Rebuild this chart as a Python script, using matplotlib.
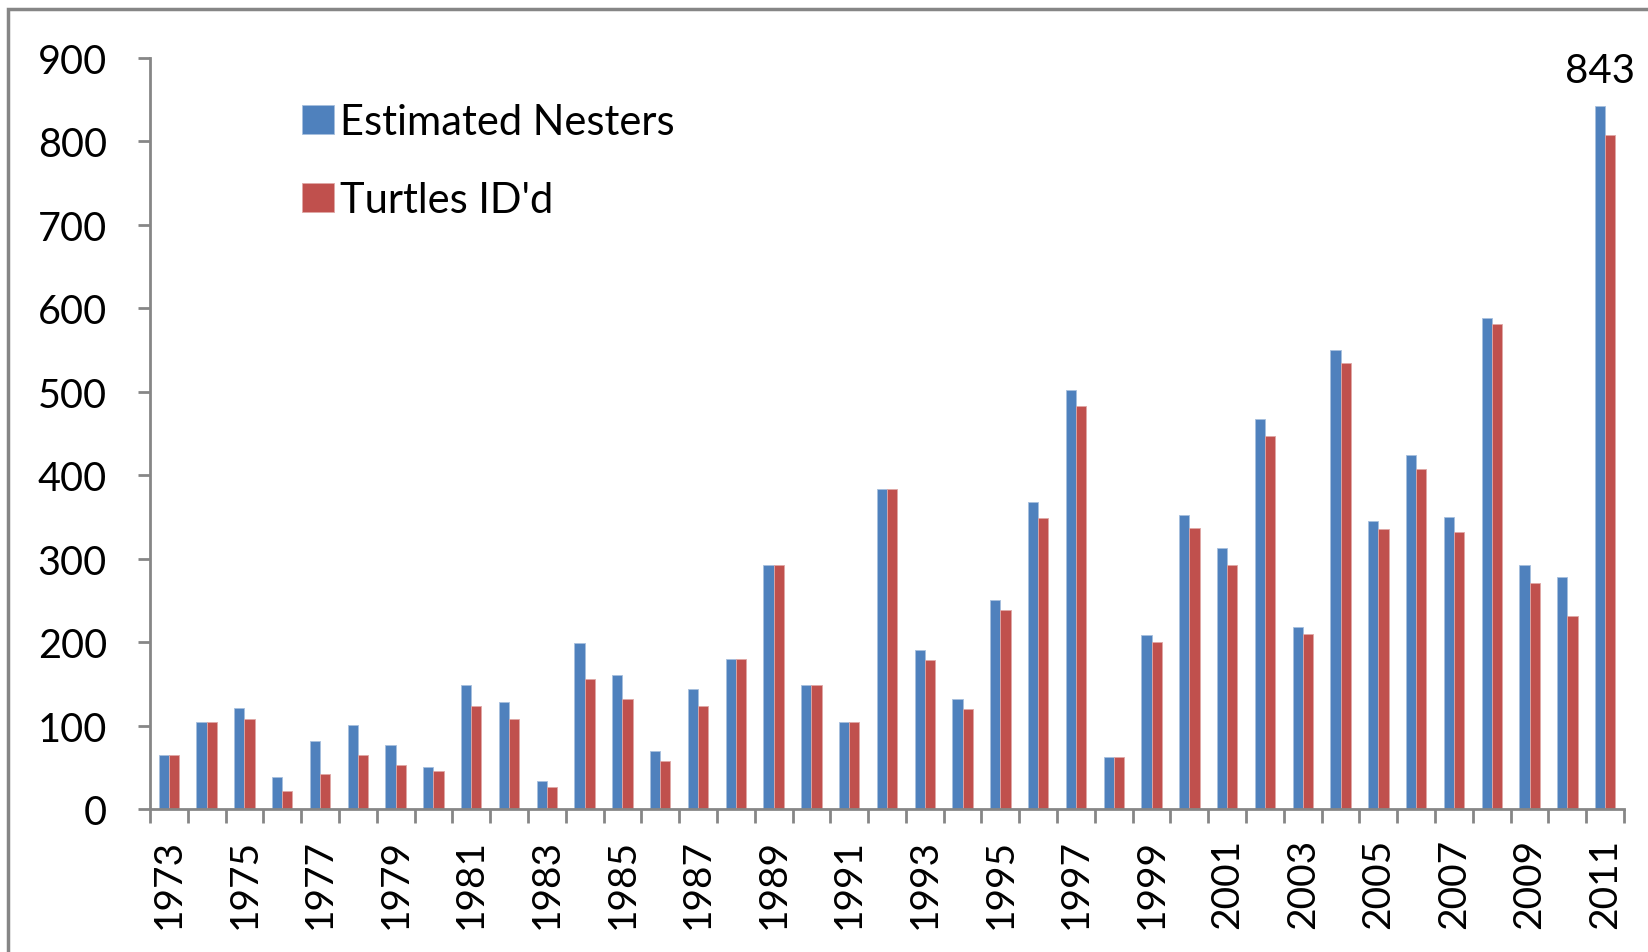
import matplotlib
matplotlib.use("Agg")
import matplotlib.pyplot as plt
import matplotlib.patches as patches
import numpy as np

# DATA
years = list(range(1973, 2012))
nesters = [65, 104, 121, 38, 82, 101, 77, 50, 149, 128, 34, 199, 160, 69, 144, 180,
           293, 149, 104, 384, 191, 132, 250, 368, 502, 62, 208, 352, 313, 467, 218,
           550, 345, 424, 350, 589, 293, 278, 843]
ided = [65, 104, 108, 22, 42, 65, 53, 45, 123, 108, 26, 156, 132, 57, 123, 180,
        293, 149, 104, 384, 179, 120, 238, 349, 483, 62, 200, 337, 293, 447, 210,
        534, 336, 408, 332, 581, 271, 231, 808]
label_years = [str(y) for y in years[::2]]

blue = "#4F81BD"
red = "#C0504D"
gray = "#868686"
plt.rcParams['font.family'] = ['Lato', 'DejaVu Sans']

fig = plt.figure(figsize=(16.48, 9.53), dpi=100)
ax = fig.add_axes([150/1648, 1-810/953, 1474/1648, 751/953])

x = np.arange(len(years))
w = 0.27
ax.bar(x - w/2, nesters, w, color=blue, edgecolor="#A7BFDE", linewidth=0.6, label="Estimated Nesters")
ax.bar(x + w/2, ided, w, color=red, edgecolor="#DFA7A6", linewidth=0.6, label="Turtles ID'd")

ax.set_xlim(-0.5, len(years) - 0.5)
ax.set_ylim(0, 900)
ax.set_yticks(range(0, 901, 100))

ax.set_xticks(x[::2])
ax.set_xticklabels(label_years, rotation=90)
ax.set_xticks(np.arange(len(years) + 1) - 0.5, minor=True)
ax.tick_params(axis='x', which='major', length=0, pad=21, labelsize=28)
ax.tick_params(axis='x', which='minor', length=10, width=2, color=gray)
ax.tick_params(axis='y', length=9, width=2, color=gray, pad=22, labelsize=28.5)

for s in ['top', 'right']:
    ax.spines[s].set_visible(False)
for s in ['left', 'bottom']:
    ax.spines[s].set_color(gray)
    ax.spines[s].set_linewidth(2)

ax.annotate(str(nesters[-1]), (x[-1] - w/2, nesters[-1]), xytext=(0, 12),
            textcoords='offset points', ha='center', va='bottom', fontsize=29)

ax.legend(loc='upper left', bbox_to_anchor=(0.092, 0.962), frameon=False, fontsize=30,
          handlelength=0.75, handleheight=0.7, handletextpad=0.15, labelspacing=0.95,
          borderaxespad=0)

# outer frame
fig.patches.append(patches.Rectangle((8/1648, -0.1), 1.2, 1.1 - 10/953, transform=fig.transFigure,
                                     fill=False, edgecolor=gray, linewidth=2.5, clip_on=False))

fig.savefig("out.png", dpi=100)
